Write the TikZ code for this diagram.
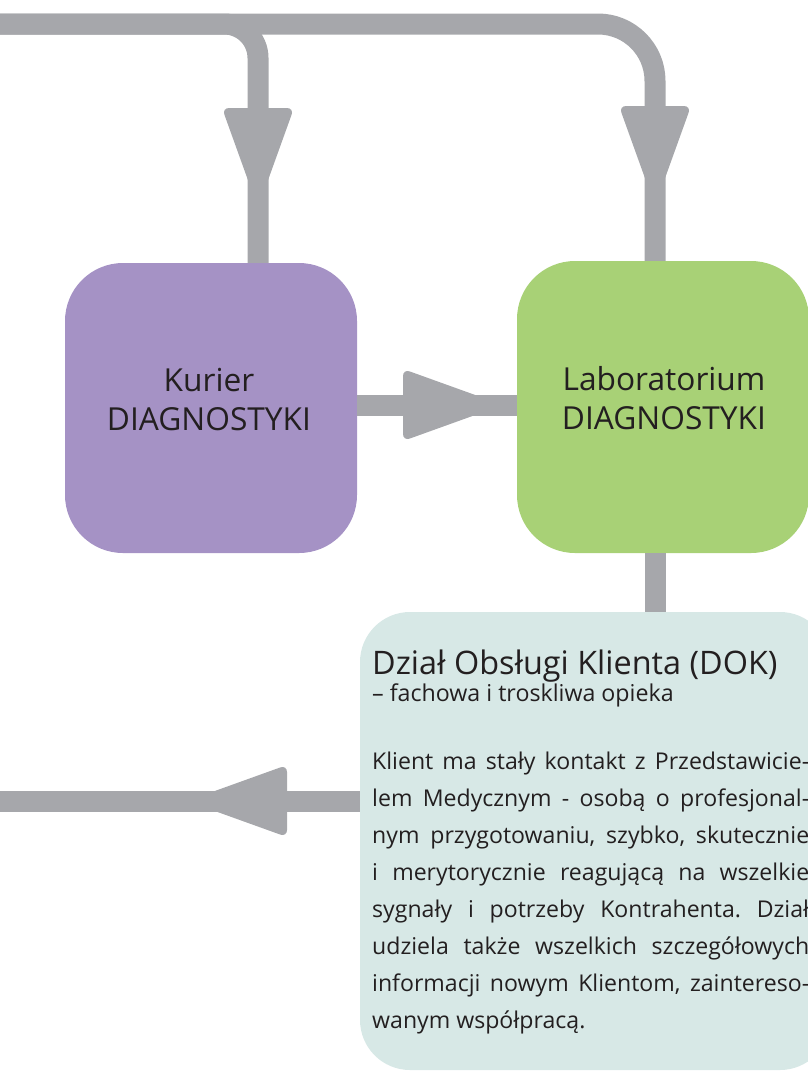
\documentclass[tikz,border=0pt]{standalone}
\usepackage{fontspec}
\setmainfont{Open Sans}
\AtBeginDocument{\frenchspacing}
\definecolor{arrowgray}{HTML}{A6A7AB}
\definecolor{kurfill}{HTML}{A592C5}
\definecolor{labfill}{HTML}{A8D176}
\definecolor{dokfill}{HTML}{D7E8E6}
\definecolor{ink}{HTML}{231F20}
\newcommand\jline[1]{\makebox[437pt][s]{#1}}
\tikzset{
  conn/.style={draw=arrowgray, line width=21pt},
  boxnode/.style={rectangle, rounded corners=58pt, inner sep=0pt},
  lbl/.style={text=ink, inner sep=0pt, font=\fontsize{31.7}{39}\selectfont},
  ttl/.style={text=ink, inner sep=0pt, font=\fontsize{32.4}{38}\selectfont},
  sub/.style={text=ink, inner sep=0pt, font=\fontsize{23.2}{28}\selectfont},
  body/.style={text=ink, inner sep=0pt, font=\frenchspacing\fontsize{23.1}{37}\selectfont},
  headpic/.pic={\fill[arrowgray, rounded corners=7pt] (0,-36) -- (100,0) -- (0,36) -- cycle;}
}
\begin{document}
\begin{tikzpicture}[x=1pt,y=-1pt]
\useasboundingbox (0,0) rectangle (808,1071);
\clip (0,0) rectangle (808,1071);
% boxes
\node[boxnode, fill=kurfill, minimum width=292pt, minimum height=290pt] (kur) at (211,408) {};
\node[boxnode, fill=labfill, minimum width=292pt, minimum height=292pt] (lab) at (663,407) {};
\node[boxnode, fill=dokfill, rounded corners=50pt, minimum width=470pt, minimum height=458pt] (dok) at (595,841) {};
% free ends
\coordinate (tl) at (-20,24);
\coordinate (bl) at (-20,801);
\coordinate (kurIn) at ([xshift=47pt]kur.north);
\coordinate (labIn) at ([xshift=-8pt]lab.north);
\coordinate (labOut) at ([xshift=-8pt]lab.south);
\coordinate (dokL) at ([yshift=40pt]dok.west);
% connectors
\draw[conn, rounded corners=34pt] (tl) -| (kurIn);
\draw[conn, rounded corners=57pt] (tl) -| (labIn);
\draw[conn] ([yshift=3pt]kur.east) -- ([yshift=3pt]kur.east -| lab.west);
\draw[conn] (labOut) -- (labOut |- dok.north);
\draw[conn] (dokL) -- (bl);
% arrowheads
\pic[rotate=-90] at (258,108) {headpic};
\pic[rotate=-90] at (655,106) {headpic};
\pic at (403,405) {headpic};
\pic[rotate=180] at (287,801) {headpic};
% labels
\node[lbl, anchor=base] (kurT1) at (209,391) {Kurier};
\node[lbl, anchor=base] (kurT2) at (209,430) {DIAGNOSTYKI};
\node[lbl, anchor=base] (labT1) at (664,390) {Laboratorium};
\node[lbl, anchor=base] (labT2) at (664,429) {DIAGNOSTYKI};
\node[ttl, anchor=base west] (dokT) at (372,674) {Dział Obsługi Klienta (DOK)};
\node[sub, anchor=base west] (dokS) at (372,701) {– fachowa i troskliwa opieka};
\node[body, anchor=base west] (b1) at (372,769) {\jline{Klient ma stały kontakt z Przedstawicie-}};
\node[body, anchor=base west] (b2) at (372,806) {\jline{lem Medycznym - osobą o profesjonal-}};
\node[body, anchor=base west] (b3) at (372,843) {\jline{nym przygotowaniu, szybko, skutecznie}};
\node[body, anchor=base west] (b4) at (372,880) {\jline{i merytorycznie reagującą na wszelkie}};
\node[body, anchor=base west] (b5) at (372,917) {\jline{sygnały i potrzeby Kontrahenta. Dział}};
\node[body, anchor=base west] (b6) at (372,954) {\jline{udziela także wszelkich szczegółowych}};
\node[body, anchor=base west] (b7) at (372,991) {\jline{informacji nowym Klientom, zaintereso-}};
\node[body, anchor=base west] (b8) at (372,1028) {wanym współpracą.};
\end{tikzpicture}
\end{document}
